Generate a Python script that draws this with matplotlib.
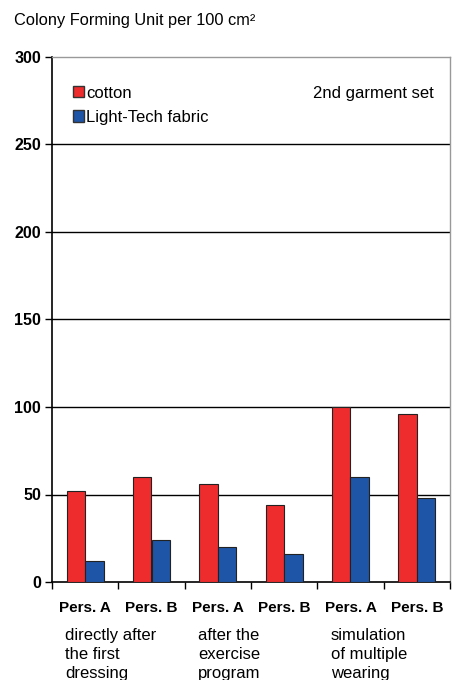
import matplotlib
matplotlib.use('Agg')
import matplotlib.pyplot as plt
import numpy as np
from matplotlib.patches import Patch

# --- data ---
persons = ["Pers. A", "Pers. B", "Pers. A", "Pers. B", "Pers. A", "Pers. B"]
phases = ["directly after\nthe first\ndressing",
          "after the\nexercise\nprogram",
          "simulation\nof multiple\nwearing"]
cotton = [52, 60, 56, 44, 100, 96]
light_tech = [12, 24, 20, 16, 60, 48]
y_ticks = [0, 50, 100, 150, 200, 250, 300]

RED = '#ee2c2e'
BLUE = '#1f55a6'

plt.rcParams.update({
    'font.family': ['Liberation Sans', 'DejaVu Sans'],
    'font.size': 12,
})

fig = plt.figure(figsize=(4.57, 6.8), dpi=100)
ax = fig.add_axes([52 / 457, 98 / 680, 398 / 457, 525 / 680])

x = np.arange(len(persons))
w = 0.28
ax.bar(x - w / 2, cotton, w, color=RED, edgecolor='#222222', linewidth=0.8, zorder=3)
ax.bar(x + w / 2, light_tech, w, color=BLUE, edgecolor='#222222', linewidth=0.8, zorder=3)

ax.set_xlim(-0.5, len(persons) - 0.5)
ax.set_ylim(0, 300)
ax.set_yticks(y_ticks)
ax.set_yticklabels([str(t) for t in y_ticks], fontweight='bold', fontsize=11.5)
for t in y_ticks[1:-1]:
    ax.axhline(t, color='black', linewidth=1.0, zorder=1)

# category boundaries as ticks, person labels between them
ax.set_xticks(np.arange(len(persons) + 1) - 0.5)
ax.set_xticklabels([])
ax.set_xticks(x, minor=True)
ax.set_xticklabels(persons, minor=True, fontweight='bold', fontsize=11)
ax.tick_params(axis='x', which='minor', length=0, pad=14)
ax.tick_params(axis='x', which='major', length=5, width=1, direction='out')
ax.tick_params(axis='y', length=5, width=1, direction='out', pad=3)

for s in ['top', 'right']:
    ax.spines[s].set_color('#999999')
    ax.spines[s].set_linewidth(1.0)
for s in ['left', 'bottom']:
    ax.spines[s].set_color('black')
    ax.spines[s].set_linewidth(1.2)

# phase labels under each pair of persons
for i, txt in enumerate(phases):
    ax.text(2 * i - 0.3, -0.088, txt, transform=ax.get_xaxis_transform(),
            ha='left', va='top', fontsize=12, linespacing=1.32)

handles = [Patch(facecolor=RED, edgecolor='#333333', label='cotton'),
           Patch(facecolor=BLUE, edgecolor='#333333', label='Light-Tech fabric')]
ax.legend(handles=handles, loc='upper left', bbox_to_anchor=(0.037, 0.958),
          frameon=False, fontsize=12, handlelength=0.65, handleheight=0.65,
          handletextpad=0.12, labelspacing=0.55, borderaxespad=0)
ax.text(0.96, 0.93, '2nd garment set', transform=ax.transAxes,
        ha='right', va='center', fontsize=12)

fig.text(14 / 457, 1 - 20 / 680, 'Colony Forming Unit per 100 cm²',
         ha='left', va='center', fontsize=11.8)

fig.savefig('out.png', dpi=100, facecolor='white')
